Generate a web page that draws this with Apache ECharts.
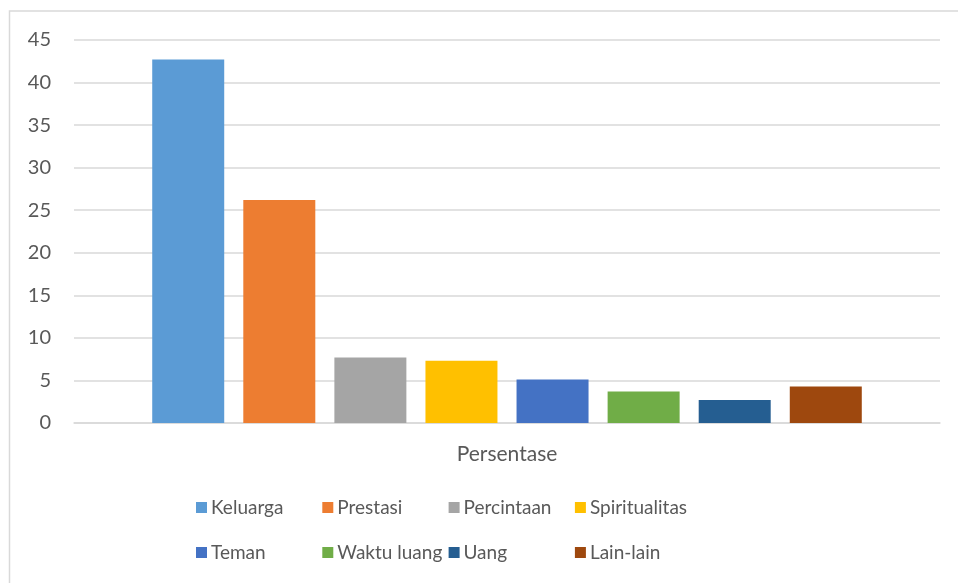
<!DOCTYPE html>
<html>
<head>
<meta charset="utf-8">
<script src="https://cdn.jsdelivr.net/npm/echarts@6/dist/echarts.min.js"></script>
<style>
  html, body { margin: 0; padding: 0; background: #fff; }
  #container { width: 958px; height: 583px; }
</style>
</head>
<body>
<div id="container"></div>
<script>
var categories = ['Persentase'];
var seriesNames = ['Keluarga', 'Prestasi', 'Percintaan', 'Spiritualitas', 'Teman', 'Waktu luang', 'Uang', 'Lain-lain'];
var seriesValues = [42.7, 26.2, 7.7, 7.3, 5.1, 3.7, 2.7, 4.3];
var seriesColors = ['#5b9bd5', '#ed7d31', '#a5a5a5', '#ffc000', '#4472c4', '#70ad47', '#255e91', '#9e480e'];

var font = 'Lato';

var series = seriesNames.map(function (name, i) {
  return {
    name: name,
    type: 'bar',
    data: [seriesValues[i]],
    barWidth: 72,
    barGap: '26.5%',
    itemStyle: { color: seriesColors[i] }
  };
});

// one legend per item so the columns line up like the original
var legends = seriesNames.map(function (name, i) {
  var col = i % 4, row = Math.floor(i / 4);
  return {
    data: [name],
    left: 196 + col * 126.3,
    top: 498 + row * 45,
    padding: 0,
    icon: 'rect',
    itemWidth: 11,
    itemHeight: 11,
    itemGap: 0,
    textStyle: {
      color: '#595959',
      fontFamily: font,
      fontSize: 19,
      padding: [0, 0, 0, -1]
    }
  };
});

var option = {
  animation: false,
  backgroundColor: '#fff',
  graphic: [{
    type: 'rect',
    shape: { x: 9.5, y: 11, width: 1000, height: 700 },
    style: { fill: 'none', stroke: '#d9d9d9', lineWidth: 1.5 },
    silent: true
  }],
  grid: {
    left: 74,
    right: 18,
    top: 40,
    bottom: 160,
    containLabel: false
  },
  legend: legends,
  xAxis: {
    type: 'category',
    data: categories,
    axisLine: { show: true, lineStyle: { color: '#d9d9d9', width: 1.5 } },
    axisTick: { show: false },
    axisLabel: {
      color: '#595959',
      fontFamily: font,
      fontSize: 21,
      margin: 21
    }
  },
  yAxis: {
    type: 'value',
    min: 0,
    max: 45,
    interval: 5,
    axisLine: { show: false },
    axisTick: { show: false },
    splitLine: { lineStyle: { color: '#d9d9d9', width: 1.5 } },
    axisLabel: {
      color: '#595959',
      fontFamily: font,
      fontSize: 20,
      margin: 23
    }
  },
  series: series
};

var myChart = echarts.init(document.getElementById('container'), null, { renderer: 'canvas' });
myChart.setOption(option);
</script>
</body>
</html>
